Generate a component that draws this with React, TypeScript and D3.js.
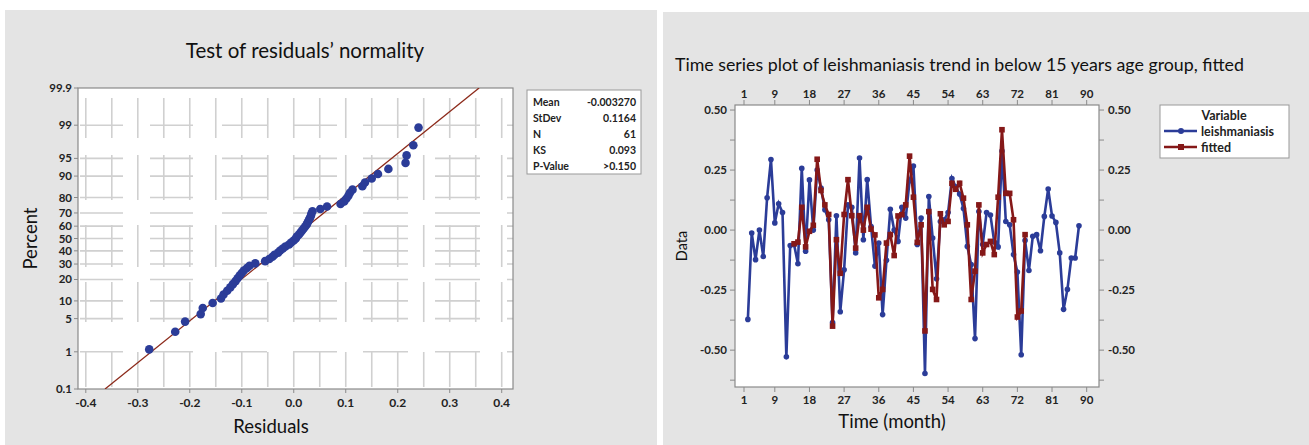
import { useRef, useEffect } from "react";
import * as d3 from "d3";

// ---- residual normality test (left) ----
const residuals = [
  -0.278, -0.228, -0.209, -0.179, -0.175, -0.156, -0.14, -0.135, -0.128, -0.122,
  -0.117, -0.112, -0.108, -0.104, -0.1, -0.096, -0.09, -0.085, -0.074, -0.055,
  -0.047, -0.041, -0.037, -0.03, -0.026, -0.021, -0.016, -0.009, -0.005, 0.0,
  0.004, 0.006, 0.01, 0.013, 0.016, 0.019, 0.022, 0.025, 0.027, 0.029,
  0.031, 0.033, 0.034, 0.036, 0.051, 0.064, 0.09, 0.097, 0.101, 0.105,
  0.108, 0.113, 0.132, 0.137, 0.15, 0.162, 0.182, 0.215, 0.217, 0.23, 0.24,
];
const fitMean = -0.00327;
const fitSd = 0.1164;
const percentTicks = [0.1, 1, 5, 10, 20, 30, 40, 50, 60, 70, 80, 90, 95, 99, 99.9];
const residualTicks = [-0.4, -0.3, -0.2, -0.1, 0.0, 0.1, 0.2, 0.3, 0.4];
const statLabels = ["Mean", "StDev", "N", "KS", "P-Value"];
const statValues = ["-0.003270", "0.1164", "61", "0.093", ">0.150"];

// ---- time series (right) ----
const leishStart = 2;
const leishmaniasis = [
  -0.372, -0.012, -0.123, 0.0, -0.11, 0.135, 0.294, 0.03, 0.11, 0.073,
  -0.528, -0.064, -0.06, -0.14, 0.257, -0.088, 0.209, 0.0, 0.25, 0.175,
  0.085, 0.043, -0.385, 0.06, -0.34, -0.165, 0.105, 0.095, -0.095, 0.3,
  -0.04, 0.21, 0.015, -0.15, -0.054, -0.352, -0.126, 0.087, 0.0, -0.047,
  0.095, 0.05, 0.206, 0.267, -0.06, 0.05, -0.597, 0.14, -0.033, -0.203,
  0.036, 0.043, 0.073, 0.215, 0.18, 0.15, 0.09, -0.068, -0.144, -0.452,
  0.077, -0.06, 0.073, 0.063, -0.05, -0.07, 0.329, 0.036, 0.022, -0.102,
  -0.175, -0.519, -0.043, -0.168, -0.026, -0.019, -0.086, 0.057, 0.171, 0.059,
  0.032, -0.095, -0.33, -0.247, -0.116, -0.116, 0.018,
];
const fittedStart = 14;
const fitted = [
  -0.057, -0.05, 0.095, -0.07, -0.005, 0.02, 0.295, 0.165, 0.105, 0.065,
  -0.4, -0.04, -0.18, 0.065, 0.21, 0.06, -0.075, 0.06, 0.0, 0.095,
  0.004, -0.02, -0.282, -0.247, -0.054, -0.019, -0.106, 0.059, 0.064, 0.105,
  0.308, 0.137, -0.051, 0.022, -0.42, 0.077, -0.247, -0.289, 0.068, 0.022,
  0.036, 0.195, 0.17, 0.195, 0.133, 0.022, -0.289, -0.171, 0.105, -0.095,
  -0.06, -0.047, -0.102, 0.137, 0.418, 0.153, 0.153, 0.043, -0.362, -0.337,
  -0.019,
];
const monthTicks = [1, 9, 18, 27, 36, 45, 54, 63, 72, 81, 90];
const dataTicks = [0.5, 0.25, 0.0, -0.25, -0.5];

const FONT = "Lato, 'Open Sans', sans-serif";
const BLUE = "#2b3c98";
const RED = "#851818";
const PANEL = "#e4e4e4";

// inverse normal cdf (Acklam)
const probit = (p: number): number => {
  const a = [-39.69683028665376, 220.9460984245205, -275.9285104469687, 138.357751867269, -30.66479806614716, 2.506628277459239];
  const b = [-54.47609879822406, 161.5858368580409, -155.6989798598866, 66.80131188771972, -13.28068155288572];
  const c = [-0.007784894002430293, -0.3223964580411365, -2.400758277161838, -2.549732539343734, 4.374664141464968, 2.938163982698783];
  const d = [0.007784695709041462, 0.3224671290700398, 2.445134137142996, 3.754408661907416];
  const plow = 0.02425;
  if (p < plow) {
    const q = Math.sqrt(-2 * Math.log(p));
    return (((((c[0] * q + c[1]) * q + c[2]) * q + c[3]) * q + c[4]) * q + c[5]) /
      ((((d[0] * q + d[1]) * q + d[2]) * q + d[3]) * q + 1);
  }
  if (p > 1 - plow) return -probit(1 - p);
  const q = p - 0.5;
  const r = q * q;
  return ((((((a[0] * r + a[1]) * r + a[2]) * r + a[3]) * r + a[4]) * r + a[5]) * q) /
    (((((b[0] * r + b[1]) * r + b[2]) * r + b[3]) * r + b[4]) * r + 1);
};

const App = () => {
  const svgRef = useRef<SVGSVGElement>(null);

  useEffect(() => {
    const svg = d3.select(svgRef.current);
    svg.selectAll("*").remove();

    // panels
    svg.append("rect").attr("x", 5).attr("y", 10).attr("width", 652).attr("height", 435).attr("fill", PANEL);
    svg.append("rect").attr("x", 663).attr("y", 12).attr("width", 646).attr("height", 433).attr("fill", PANEL);

    // ================= left: normal probability plot =================
    const L = svg.append("g");
    const fx = { l: 78, r: 513, t: 88, b: 389 };
    const x = d3.scaleLinear().domain([-0.415, 0.4217]).range([fx.l, fx.r]);
    const zMax = probit(0.999);
    const y = d3.scaleLinear().domain([-zMax, zMax]).range([fx.b, fx.t]);
    const yp = (p: number) => y(probit(p / 100));

    L.append("text")
      .attr("x", 305).attr("y", 58).attr("text-anchor", "middle")
      .attr("font-family", FONT).attr("font-size", 20.5).attr("fill", "#111")
      .text("Test of residuals\u2019 normality");

    L.append("rect")
      .attr("x", fx.l).attr("y", fx.t).attr("width", fx.r - fx.l).attr("height", fx.b - fx.t)
      .attr("fill", "#fff");

    // broken Minitab-like grid
    const grid = L.append("g").attr("stroke", "#d0d0d0").attr("stroke-width", 1.6).attr("fill", "none");
    grid.selectAll("line.v")
      .data(d3.range(-0.4, 0.4001, 0.05))
      .join("line")
      .attr("x1", (d) => x(d)).attr("x2", (d) => x(d))
      .attr("y1", fx.t).attr("y2", fx.b)
      .attr("stroke-dasharray", "0 10 40 17 45 25 42 15 40 30 35 20");
    grid.selectAll("line.h")
      .data(percentTicks.slice(1, -1))
      .join("line")
      .attr("x1", fx.l).attr("x2", fx.r)
      .attr("y1", (d) => yp(d)).attr("y2", (d) => yp(d))
      .attr("stroke-dasharray", "0 2 43 27 43 29 45 26 44 26 45 27 45 27 10");

    L.append("rect")
      .attr("x", fx.l).attr("y", fx.t).attr("width", fx.r - fx.l).attr("height", fx.b - fx.t)
      .attr("fill", "none").attr("stroke", "#8a8a8a").attr("stroke-width", 1.2);

    // fitted line
    const clip = L.append("clipPath").attr("id", "clipL");
    clip.append("rect").attr("x", fx.l).attr("y", fx.t).attr("width", fx.r - fx.l).attr("height", fx.b - fx.t);
    const fitLine = d3.line<number>()
      .x((z) => x(fitMean + fitSd * z))
      .y((z) => y(z));
    L.append("path")
      .attr("clip-path", "url(#clipL)")
      .attr("d", fitLine([-zMax, zMax]))
      .attr("stroke", "#8c2a1a").attr("stroke-width", 1.3).attr("fill", "none");

    // points at median ranks
    const n = residuals.length;
    L.selectAll("circle.pt")
      .data(residuals)
      .join("circle")
      .attr("cx", (d) => x(d))
      .attr("cy", (d, i) => y(probit((i + 1 - 0.3) / (n + 0.4))))
      .attr("r", 4.3)
      .attr("fill", BLUE);

    // axes
    const yAxisL = L.append("g").attr("font-family", FONT).attr("font-size", 11.5).attr("font-weight", 700);
    percentTicks.forEach((p) => {
      yAxisL.append("line").attr("x1", fx.l - 4).attr("x2", fx.l).attr("y1", yp(p)).attr("y2", yp(p)).attr("stroke", "#8a8a8a");
      yAxisL.append("text").attr("x", fx.l - 6).attr("y", yp(p) + 4).attr("text-anchor", "end").attr("fill", "#222").text(String(p));
    });
    const xAxisL = L.append("g").attr("font-family", FONT).attr("font-size", 12).attr("font-weight", 700);
    residualTicks.forEach((t) => {
      xAxisL.append("line").attr("x1", x(t)).attr("x2", x(t)).attr("y1", fx.b).attr("y2", fx.b + 4).attr("stroke", "#8a8a8a");
      xAxisL.append("text").attr("x", x(t)).attr("y", fx.b + 18).attr("text-anchor", "middle").attr("fill", "#222").text(t.toFixed(1));
    });
    L.append("text").attr("x", 271).attr("y", 433).attr("text-anchor", "middle")
      .attr("font-family", FONT).attr("font-size", 18.5).attr("fill", "#111").text("Residuals");
    L.append("text").attr("transform", `translate(37, ${(fx.t + fx.b) / 2}) rotate(-90)`).attr("text-anchor", "middle")
      .attr("font-family", FONT).attr("font-size", 18.5).attr("fill", "#111").text("Percent");

    // stats box
    const sb = L.append("g").attr("font-family", FONT).attr("font-size", 10.5).attr("font-weight", 700).attr("fill", "#222");
    sb.append("rect").attr("x", 527).attr("y", 90).attr("width", 114).attr("height", 84)
      .attr("fill", "#fff").attr("stroke", "#999");
    statLabels.forEach((s, i) => {
      sb.append("text").attr("x", 533).attr("y", 106 + i * 16).text(s);
      sb.append("text").attr("x", 636).attr("y", 106 + i * 16).attr("text-anchor", "end").text(statValues[i]);
    });

    // ================= right: time series =================
    const R = svg.append("g");
    const fr = { l: 735, r: 1099, t: 105, b: 387 };
    const tx = d3.scaleLinear().domain([-1.34, 93.2]).range([fr.l, fr.r]);
    const ty = d3.scaleLinear().domain([-0.6535, 0.521]).range([fr.b, fr.t]);

    R.append("text").attr("x", 675).attr("y", 71)
      .attr("font-family", FONT).attr("font-size", 17.8).attr("fill", "#111")
      .text("Time series plot of leishmaniasis trend in below 15 years age group, fitted");

    R.append("rect").attr("x", fr.l).attr("y", fr.t).attr("width", fr.r - fr.l).attr("height", fr.b - fr.t)
      .attr("fill", "#fff").attr("stroke", "#8a8a8a").attr("stroke-width", 1.2);

    const ax = R.append("g").attr("font-family", FONT).attr("font-size", 11.5).attr("font-weight", 700).attr("fill", "#222");
    d3.range(-0.625, 0.5001, 0.125).forEach((v) => {
      ax.append("line").attr("x1", fr.l - 5).attr("x2", fr.l).attr("y1", ty(v)).attr("y2", ty(v)).attr("stroke", "#8a8a8a");
      ax.append("line").attr("x1", fr.r).attr("x2", fr.r + 5).attr("y1", ty(v)).attr("y2", ty(v)).attr("stroke", "#8a8a8a");
    });
    dataTicks.forEach((v) => {
      ax.append("text").attr("x", fr.l - 8).attr("y", ty(v) + 4).attr("text-anchor", "end").text(v.toFixed(2));
      ax.append("text").attr("x", fr.r + 9).attr("y", ty(v) + 4).text(v.toFixed(2));
    });
    monthTicks.forEach((m) => {
      ax.append("line").attr("x1", tx(m)).attr("x2", tx(m)).attr("y1", fr.b).attr("y2", fr.b + 5).attr("stroke", "#8a8a8a");
      ax.append("line").attr("x1", tx(m)).attr("x2", tx(m)).attr("y1", fr.t - 5).attr("y2", fr.t).attr("stroke", "#8a8a8a");
      ax.append("text").attr("x", tx(m)).attr("y", fr.b + 17).attr("text-anchor", "middle").text(String(m));
      ax.append("text").attr("x", tx(m)).attr("y", fr.t - 7).attr("text-anchor", "middle").text(String(m));
    });
    R.append("text").attr("x", 892).attr("y", 428).attr("text-anchor", "middle")
      .attr("font-family", FONT).attr("font-size", 18.5).attr("fill", "#111").text("Time (month)");
    R.append("text").attr("transform", `translate(687, ${(fr.t + fr.b) / 2}) rotate(-90)`).attr("text-anchor", "middle")
      .attr("font-family", FONT).attr("font-size", 14.5).attr("fill", "#111").text("Data");

    const blueData = leishmaniasis.map((v, i) => ({ t: leishStart + i, v }));
    const redData = fitted.map((v, i) => ({ t: fittedStart + i, v }));
    const tsLine = d3.line<{ t: number; v: number }>().x((d) => tx(d.t)).y((d) => ty(d.v));

    R.append("path").attr("d", tsLine(blueData)).attr("fill", "none").attr("stroke", BLUE).attr("stroke-width", 2.6);
    R.selectAll("circle.b").data(blueData).join("circle")
      .attr("cx", (d) => tx(d.t)).attr("cy", (d) => ty(d.v)).attr("r", 2.8).attr("fill", BLUE);

    R.append("path").attr("d", tsLine(redData)).attr("fill", "none").attr("stroke", RED).attr("stroke-width", 2.6);
    R.selectAll("rect.r").data(redData).join("rect")
      .attr("x", (d) => tx(d.t) - 2.8).attr("y", (d) => ty(d.v) - 2.8).attr("width", 5.6).attr("height", 5.6).attr("fill", RED);

    // legend
    const lg = R.append("g").attr("font-family", FONT).attr("font-size", 12.5).attr("font-weight", 700).attr("fill", "#222");
    lg.append("rect").attr("x", 1160).attr("y", 105).attr("width", 129).attr("height", 53).attr("fill", "#fff").attr("stroke", "#999");
    lg.append("text").attr("x", 1224).attr("y", 120).attr("text-anchor", "middle").text("Variable");
    lg.append("line").attr("x1", 1164).attr("x2", 1197).attr("y1", 131).attr("y2", 131).attr("stroke", BLUE).attr("stroke-width", 2.4);
    lg.append("circle").attr("cx", 1181).attr("cy", 131).attr("r", 3).attr("fill", BLUE);
    lg.append("text").attr("x", 1201).attr("y", 135.5).text("leishmaniasis");
    lg.append("line").attr("x1", 1164).attr("x2", 1197).attr("y1", 147).attr("y2", 147).attr("stroke", RED).attr("stroke-width", 2.4);
    lg.append("rect").attr("x", 1178).attr("y", 144).attr("width", 6).attr("height", 6).attr("fill", RED);
    lg.append("text").attr("x", 1201).attr("y", 151.5).text("fitted");
  }, []);

  return (
    <svg
      ref={svgRef}
      width={1309}
      height={445}
      style={{ position: "absolute", left: 0, top: 0, background: "#fff" }}
    />
  );
};

export default App;
